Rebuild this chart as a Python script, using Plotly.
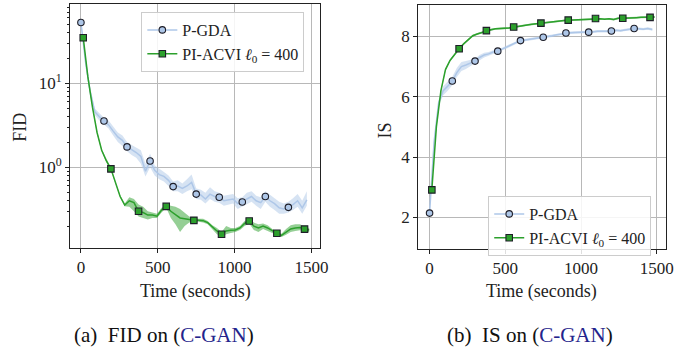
import plotly.graph_objects as go

# ---------------- data ----------------
t_pgda = [0, 30, 60, 90, 120, 150, 180, 210, 240, 270, 300, 330, 360, 390, 420, 450, 480, 510, 540, 570,
          600, 630, 660, 690, 720, 750, 780, 810, 840, 870, 900, 930, 960, 990, 1020, 1050, 1080, 1110, 1140, 1170,
          1200, 1230, 1260, 1290, 1320, 1350, 1380, 1410, 1440, 1470]
t_acvi = [15, 45, 75, 105, 135, 165, 195, 225, 255, 285, 315, 345, 375, 405, 435, 465, 495, 525, 555, 585,
          615, 645, 675, 705, 735, 765, 795, 825, 855, 885, 915, 945, 975, 1005, 1035, 1065, 1095, 1125, 1155, 1185,
          1215, 1245, 1275, 1305, 1335, 1365, 1395, 1425, 1455, 1485]

fid_pgda = [53, 18, 8, 4.6, 4.0, 3.56, 3.2, 2.7, 2.3, 2.1, 1.75, 1.62, 1.5, 1.35, 0.9, 1.19, 0.92, 0.82, 0.78, 0.7,
            0.59, 0.6, 0.56, 0.6, 0.66, 0.48, 0.47, 0.42, 0.48, 0.45, 0.44, 0.40, 0.41, 0.42, 0.37, 0.386, 0.42, 0.45, 0.40, 0.38,
            0.45, 0.40, 0.37, 0.33, 0.32, 0.334, 0.36, 0.40, 0.33, 0.41]
fid_pgda_lo = [53, 16, 7, 4.2, 3.6, 3.2, 2.9, 2.4, 2.0, 1.8, 1.55, 1.4, 1.3, 1.1, 0.78, 1.0, 0.8, 0.72, 0.68, 0.6,
               0.52, 0.52, 0.48, 0.52, 0.55, 0.42, 0.41, 0.37, 0.42, 0.39, 0.38, 0.35, 0.36, 0.37, 0.32, 0.34, 0.36, 0.39, 0.35, 0.32,
               0.39, 0.34, 0.31, 0.28, 0.28, 0.29, 0.31, 0.34, 0.28, 0.35]
fid_pgda_hi = [53, 20, 9, 5.0, 4.4, 3.9, 3.6, 3.1, 2.6, 2.4, 2.0, 1.85, 1.7, 1.6, 1.1, 1.45, 1.05, 0.95, 0.88, 0.8,
               0.68, 0.7, 0.64, 0.72, 0.82, 0.56, 0.54, 0.5, 0.58, 0.52, 0.5, 0.46, 0.47, 0.48, 0.43, 0.44, 0.5, 0.52, 0.46, 0.44,
               0.52, 0.47, 0.43, 0.39, 0.37, 0.39, 0.43, 0.48, 0.4, 0.52]

fid_acvi = [34.9, 12, 5.2, 2.6, 1.6, 1.2, 0.96, 0.65, 0.45, 0.355, 0.40, 0.38, 0.30, 0.29, 0.27, 0.27, 0.262, 0.31, 0.343, 0.30,
            0.275, 0.25, 0.245, 0.24, 0.234, 0.235, 0.232, 0.22, 0.195, 0.175, 0.16, 0.175, 0.178, 0.18, 0.19, 0.215, 0.23, 0.2, 0.19, 0.2,
            0.19, 0.175, 0.164, 0.155, 0.17, 0.185, 0.19, 0.192, 0.184, 0.18]
fid_acvi_lo = [34.9, 11.5, 5.0, 2.5, 1.55, 1.15, 0.93, 0.63, 0.44, 0.345, 0.34, 0.3, 0.26, 0.25, 0.24, 0.25, 0.25, 0.29, 0.33, 0.25,
               0.21, 0.17, 0.2, 0.22, 0.225, 0.225, 0.22, 0.21, 0.185, 0.16, 0.148, 0.16, 0.165, 0.17, 0.18, 0.2, 0.215, 0.18, 0.17, 0.185,
               0.175, 0.165, 0.155, 0.148, 0.158, 0.17, 0.175, 0.178, 0.172, 0.17]
fid_acvi_hi = [34.9, 12.5, 5.4, 2.7, 1.65, 1.25, 0.99, 0.67, 0.47, 0.37, 0.44, 0.42, 0.36, 0.34, 0.30, 0.29, 0.28, 0.33, 0.36, 0.35,
               0.34, 0.32, 0.29, 0.26, 0.245, 0.245, 0.245, 0.23, 0.205, 0.19, 0.17, 0.2, 0.19, 0.19, 0.2, 0.23, 0.245, 0.22, 0.21, 0.215,
               0.205, 0.185, 0.173, 0.162, 0.185, 0.205, 0.21, 0.21, 0.198, 0.19]

is_pgda = [2.14, 4.5, 5.8, 6.2, 6.35, 6.52, 6.8, 7.0, 7.05, 7.12, 7.18, 7.3, 7.38, 7.42, 7.48, 7.51, 7.58, 7.65, 7.72, 7.8,
           7.86, 7.88, 7.9, 7.93, 7.95, 7.97, 7.99, 8.02, 8.05, 8.08, 8.11, 8.12, 8.13, 8.13, 8.14, 8.14, 8.15, 8.17, 8.16, 8.17,
           8.18, 8.2, 8.19, 8.22, 8.24, 8.26, 8.25, 8.24, 8.26, 8.23]
is_pgda_lo = [2.14, 4.4, 5.7, 6.05, 6.2, 6.38, 6.65, 6.85, 6.92, 7.02, 7.1, 7.22, 7.3, 7.36, 7.42, 7.46, 7.53, 7.6, 7.67, 7.75,
              7.82, 7.84, 7.86, 7.89, 7.91, 7.93, 7.95, 7.98, 8.01, 8.04, 8.07, 8.08, 8.09, 8.09, 8.1, 8.1, 8.11, 8.13, 8.12, 8.13,
              8.14, 8.16, 8.15, 8.18, 8.2, 8.22, 8.21, 8.2, 8.22, 8.19]
is_pgda_hi = [2.14, 4.6, 5.9, 6.35, 6.5, 6.66, 6.95, 7.15, 7.18, 7.22, 7.26, 7.38, 7.46, 7.48, 7.54, 7.56, 7.63, 7.7, 7.77, 7.85,
              7.9, 7.92, 7.94, 7.97, 7.99, 8.01, 8.03, 8.06, 8.09, 8.12, 8.15, 8.16, 8.17, 8.17, 8.18, 8.18, 8.19, 8.21, 8.2, 8.21,
              8.22, 8.24, 8.23, 8.26, 8.28, 8.3, 8.29, 8.28, 8.3, 8.27]

is_acvi = [2.91, 5.0, 6.2, 6.9, 7.2, 7.4, 7.59, 7.75, 7.9, 8.02, 8.08, 8.13, 8.19, 8.22, 8.25, 8.27, 8.27, 8.28, 8.31, 8.33,
           8.36, 8.38, 8.4, 8.42, 8.44, 8.45, 8.47, 8.5, 8.52, 8.53, 8.54, 8.54, 8.55, 8.55, 8.56, 8.57, 8.59, 8.58, 8.57, 8.58,
           8.56, 8.6, 8.6, 8.6, 8.61, 8.62, 8.63, 8.63, 8.63, 8.64]
is_acvi_lo = [2.91, 4.95, 6.15, 6.86, 7.17, 7.37, 7.56, 7.72, 7.87, 7.99, 8.05, 8.1, 8.16, 8.19, 8.22, 8.24, 8.24, 8.25, 8.28, 8.3,
              8.33, 8.35, 8.37, 8.39, 8.41, 8.42, 8.44, 8.47, 8.49, 8.5, 8.51, 8.51, 8.52, 8.52, 8.53, 8.54, 8.56, 8.55, 8.54, 8.55,
              8.53, 8.57, 8.57, 8.57, 8.58, 8.59, 8.6, 8.6, 8.6, 8.61]
is_acvi_hi = [2.91, 5.05, 6.25, 6.94, 7.23, 7.43, 7.62, 7.78, 7.93, 8.05, 8.11, 8.16, 8.22, 8.25, 8.28, 8.3, 8.3, 8.31, 8.34, 8.36,
              8.39, 8.41, 8.43, 8.45, 8.47, 8.48, 8.5, 8.53, 8.55, 8.56, 8.57, 8.57, 8.58, 8.58, 8.59, 8.6, 8.62, 8.61, 8.6, 8.61,
              8.59, 8.63, 8.63, 8.63, 8.64, 8.65, 8.66, 8.66, 8.66, 8.67]

mark_every_pgda = 5
mark_every_acvi = 6

x_ticks = [0, 500, 1000, 1500]
fid_ticks = [1, 10]
fid_ticktext = ["10<sup>0</sup>", "10<sup>1</sup>"]
fid_minor = [0.2, 0.3, 0.4, 0.5, 0.6, 0.7, 0.8, 0.9, 2, 3, 4, 5, 6, 7, 8, 9, 20, 30, 40, 50, 60, 70, 80]
is_ticks = [2, 4, 6, 8]

name_pgda = "P-GDA"
name_acvi = "PI-ACVI <i>ℓ</i><sub>0</sub> = 400"

# ---------------- styles ----------------
BLUE = "#aec7e8"
BLUE_BAND = "rgba(174,199,232,0.5)"
GREEN = "#2ca02c"
GREEN_BAND = "rgba(44,160,44,0.5)"
EDGE = "#1e1e28"
FONT = "'Liberation Serif', 'Times New Roman', Times, serif"
W, H = 683, 351

fig = go.Figure()


def add_series(t, y, lo, hi, color, band, symbol, every, xa, ya, name, legend, rank):
    fig.add_trace(go.Scatter(x=t, y=hi, mode="lines", line=dict(width=0, color=band),
                             showlegend=False, hoverinfo="skip", xaxis=xa, yaxis=ya))
    fig.add_trace(go.Scatter(x=t, y=lo, mode="lines", line=dict(width=0, color=band),
                             fill="tonexty", fillcolor=band, showlegend=False, hoverinfo="skip",
                             xaxis=xa, yaxis=ya))
    fig.add_trace(go.Scatter(x=t, y=y, mode="lines", line=dict(width=1.5, color=color),
                             showlegend=False, xaxis=xa, yaxis=ya))
    fig.add_trace(go.Scatter(x=t[::every], y=y[::every], mode="markers",
                             marker=dict(symbol=symbol, size=6.5, color=color,
                                         line=dict(width=1.1, color=EDGE)),
                             showlegend=False, xaxis=xa, yaxis=ya))
    fig.add_trace(go.Scatter(x=[None], y=[None], mode="lines+markers", name=name,
                             line=dict(width=1.5, color=color),
                             marker=dict(symbol=symbol, size=6.5, color=color,
                                         line=dict(width=1.1, color=EDGE)),
                             legend=legend, legendrank=rank, xaxis=xa, yaxis=ya))


add_series(t_pgda, fid_pgda, fid_pgda_lo, fid_pgda_hi, BLUE, BLUE_BAND, "circle", mark_every_pgda, "x", "y", name_pgda, "legend", 1)
add_series(t_acvi, fid_acvi, fid_acvi_lo, fid_acvi_hi, GREEN, GREEN_BAND, "square", mark_every_acvi, "x", "y", name_acvi, "legend", 2)
add_series(t_pgda, is_pgda, is_pgda_lo, is_pgda_hi, BLUE, BLUE_BAND, "circle", mark_every_pgda, "x2", "y2", name_pgda, "legend2", 1)
add_series(t_acvi, is_acvi, is_acvi_lo, is_acvi_hi, GREEN, GREEN_BAND, "square", mark_every_acvi, "x2", "y2", name_acvi, "legend2", 2)

axis_common = dict(showline=True, linecolor="#222", linewidth=1, mirror=True,
                   ticks="outside", ticklen=4, tickcolor="#222", tickwidth=1,
                   showgrid=True, gridcolor="#b8b8b8", gridwidth=1, zeroline=False,
                   tickfont=dict(family=FONT, size=17, color="#222"))

legend_common = dict(xanchor="left", yanchor="top", traceorder="normal",
                     bgcolor="rgba(255,255,255,0.85)", bordercolor="#cccccc", borderwidth=1,
                     tracegroupgap=0, font=dict(family=FONT, size=16, color="#222"))

fig.update_layout(
    width=W, height=H, margin=dict(l=0, r=0, t=0, b=0),
    paper_bgcolor="white", plot_bgcolor="white",
    font=dict(family=FONT, color="#222"),
    xaxis=dict(domain=[71 / W, 324 / W], range=[-70, 1557], tickvals=x_ticks, anchor="y", **axis_common),
    yaxis=dict(domain=[1 - 248 / H, 1 - 4 / H], type="log", range=[-0.96, 1.944],
               tickvals=fid_ticks, ticktext=fid_ticktext, anchor="x",
               minor=dict(tickvals=fid_minor, ticks="outside", ticklen=2, tickcolor="#222", showgrid=False),
               **axis_common),
    xaxis2=dict(domain=[423 / W, 674 / W], range=[-76, 1561], tickvals=x_ticks, anchor="y2", **axis_common),
    yaxis2=dict(domain=[1 - 249 / H, 1 - 5 / H], range=[0.95, 9.04], tickvals=is_ticks, anchor="x2", **axis_common),
    legend=dict(x=143 / W, y=1 - 12 / H, **legend_common),
    legend2=dict(x=494 / W, y=1 - 196 / H, **legend_common),
)

ann_font = dict(family=FONT, size=18, color="#222")
common_ann = dict(xref="paper", yref="paper", showarrow=False, xanchor="center", yanchor="middle")
fig.add_annotation(text="FID", x=20 / W, y=1 - 127 / H, textangle=-90, font=ann_font, **common_ann)
fig.add_annotation(text="IS", x=390 / W, y=1 - 130 / H, textangle=-90, font=ann_font, **common_ann)
fig.add_annotation(text="Time (seconds)", x=198 / W, y=1 - 291 / H, font=ann_font, **common_ann)
fig.add_annotation(text="Time (seconds)", x=548 / W, y=1 - 291 / H, font=ann_font, **common_ann)

cap_font = dict(family=FONT, size=21, color="#111")
fig.add_annotation(text='(a)  FID on (<span style="color:#24248c">C-GAN</span>)', x=166 / W, y=1 - 335 / H,
                   font=cap_font, **common_ann)
fig.add_annotation(text='(b)  IS on (<span style="color:#24248c">C-GAN</span>)', x=536 / W, y=1 - 335 / H,
                   font=cap_font, **common_ann)

fig.write_html("out.html")
